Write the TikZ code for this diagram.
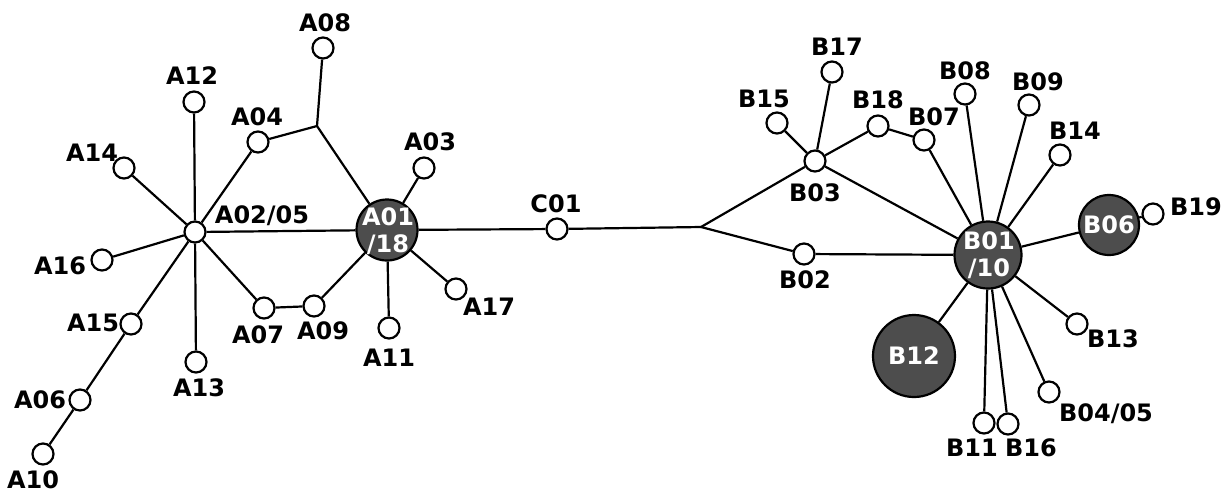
\documentclass[tikz,border=0pt]{standalone}
\usepackage{fontspec}
\setmainfont{DejaVu Sans}
\definecolor{dgray}{HTML}{4D4D4D}
\begin{document}
\begin{tikzpicture}[x=0.5pt,y=-0.5pt,
 sn/.style={circle,draw,line width=1.1pt,fill=white,minimum size=10.5pt,inner sep=0pt},
 bn/.style={circle,draw,line width=1.1pt,fill=dgray,inner sep=0pt},
 bt/.style={inner sep=0pt,text=white,font=\fontsize{12}{13.5}\selectfont\bfseries,align=center},
 lb/.style={font=\fontsize{12}{13}\selectfont\bfseries,inner sep=0pt},
 ed/.style={line width=1.1pt}]
\useasboundingbox (0,0) rectangle (1228,495);
% left cluster
\node[sn] (A0205) at (195,232) {};
\node[sn] (A12) at (194,102) {};
\node[sn] (A14) at (124,168) {};
\node[sn] (A16) at (102,260) {};
\node[sn] (A15) at (131,324) {};
\node[sn] (A06) at (80,400) {};
\node[sn] (A10) at (43,454) {};
\node[sn] (A13) at (196,362) {};
\node[sn] (A04) at (258,142) {};
\node[sn] (A08) at (323,48) {};
\node[sn] (A07) at (264,308) {};
\node[sn] (A09) at (314,306) {};
\node[bn,minimum size=30.5pt] (A0118) at (387,230) {};
\node[bt] (tA0118) at (388,231) {A01\\/18};
\node[sn] (A03) at (424,168) {};
\node[sn] (A17) at (456,289) {};
\node[sn] (A11) at (389,328) {};
\coordinate (J1) at (317,126);
\node[sn] (C01) at (557,229) {};
\coordinate (J2) at (701,227);
% right cluster
\node[sn] (B03) at (815,161) {};
\node[sn] (B15) at (777,123) {};
\node[sn] (B17) at (832,72) {};
\node[sn] (B18) at (878,126) {};
\node[sn] (B07) at (924,140) {};
\node[sn] (B08) at (965,94) {};
\node[sn] (B09) at (1029,105) {};
\node[sn] (B14) at (1060,155) {};
\node[bn,minimum size=33.5pt] (B0110) at (988,255) {};
\node[bt] (tB0110) at (989,255) {B01\\/10};
\node[bn,minimum size=30pt] (B06) at (1109,225) {};
\node[bt] (tB06) at (1109,225) {B06};
\node[sn] (B19) at (1153,214) {};
\node[sn] (B02) at (804,254) {};
\node[bn,minimum size=41pt] (B12) at (914,356) {};
\node[bt] (tB12) at (914,356) {B12};
\node[sn] (B13) at (1077,324) {};
\node[sn] (B0405) at (1049,392) {};
\node[sn] (B11) at (984,423) {};
\node[sn] (B16) at (1008,424) {};
% edges
\draw[ed] (A0205) -- (A12);
\draw[ed] (A0205) -- (A14);
\draw[ed] (A0205) -- (A16);
\draw[ed] (A0205) -- (A15);
\draw[ed] (A15) -- (A06);
\draw[ed] (A06) -- (A10);
\draw[ed] (A0205) -- (A13);
\draw[ed] (A0205) -- (A04);
\draw[ed] (A04) -- (J1);
\draw[ed] (J1) -- (A08);
\draw[ed] (J1) -- (A0118);
\draw[ed] (A0205) -- (A07);
\draw[ed] (A07) -- (A09);
\draw[ed] (A09) -- (A0118);
\draw[ed] (A0205) -- (A0118);
\draw[ed] (A0118) -- (A03);
\draw[ed] (A0118) -- (A17);
\draw[ed] (A0118) -- (A11);
\draw[ed] (A0118) -- (C01);
\draw[ed] (C01) -- (J2);
\draw[ed] (J2) -- (B03);
\draw[ed] (J2) -- (B02);
\draw[ed] (B02) -- (B0110);
\draw[ed] (B03) -- (B0110);
\draw[ed] (B03) -- (B15);
\draw[ed] (B03) -- (B17);
\draw[ed] (B03) -- (B18);
\draw[ed] (B18) -- (B07);
\draw[ed] (B07) -- (B0110);
\draw[ed] (B08) -- (B0110);
\draw[ed] (B09) -- (B0110);
\draw[ed] (B14) -- (B0110);
\draw[ed] (B06) -- (B0110);
\draw[ed] (B06) -- (B19);
\draw[ed] (B12) -- (B0110);
\draw[ed] (B13) -- (B0110);
\draw[ed] (B0405) -- (B0110);
\draw[ed] (B11) -- (B0110);
\draw[ed] (B16) -- (B0110);
% labels
\node[lb] (lA08) at (325,23) {A08};
\node[lb] (lA12) at (192,76) {A12};
\node[lb] (lA14) at (92,153) {A14};
\node[lb] (lA16) at (60,266) {A16};
\node[lb] (lA15) at (93,323) {A15};
\node[lb] (lA06) at (40,400) {A06};
\node[lb] (lA10) at (33,480) {A10};
\node[lb] (lA13) at (199,388) {A13};
\node[lb] (lA04) at (257,117) {A04};
\node[lb] (lA07) at (258,335) {A07};
\node[lb] (lA09) at (323,331) {A09};
\node[lb] (lA03) at (430,142) {A03};
\node[lb] (lA17) at (489,307) {A17};
\node[lb] (lA11) at (389,358) {A11};
\node[lb] (lA0205) at (262,216) {A02/05};
\node[lb] (lC01) at (556,204) {C01};
\node[lb] (lB03) at (815,193) {B03};
\node[lb] (lB15) at (764,99) {B15};
\node[lb] (lB17) at (837,47) {B17};
\node[lb] (lB18) at (878,100) {B18};
\node[lb] (lB07) at (934,117) {B07};
\node[lb] (lB08) at (965,71) {B08};
\node[lb] (lB09) at (1038,82) {B09};
\node[lb] (lB14) at (1075,131) {B14};
\node[lb] (lB19) at (1196,207) {B19};
\node[lb] (lB02) at (805,280) {B02};
\node[lb] (lB13) at (1113,339) {B13};
\node[lb] (lB0405) at (1106,414) {B04/05};
\node[lb] (lB11) at (972,448) {B11};
\node[lb] (lB16) at (1031,448) {B16};
\end{tikzpicture}
\end{document}
